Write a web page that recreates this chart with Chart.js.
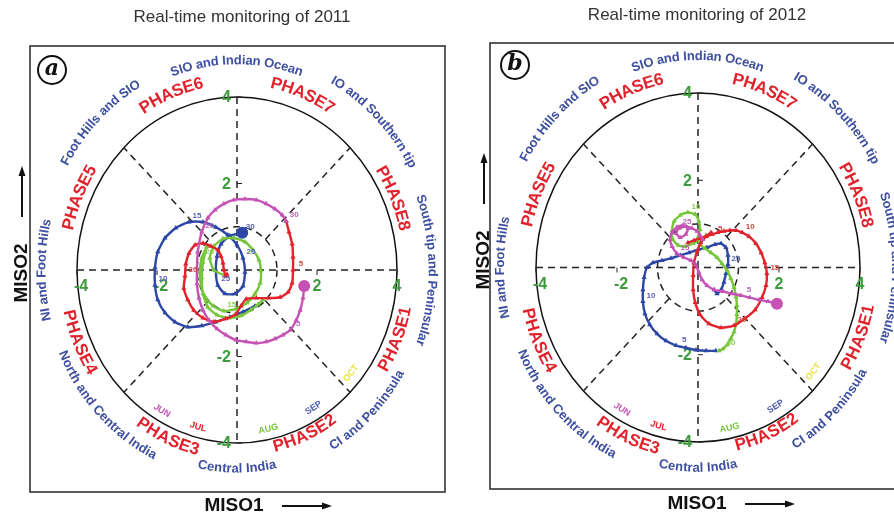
<!DOCTYPE html>
<html>
<head>
<meta charset="utf-8">
<script src="https://cdn.jsdelivr.net/npm/chart.js@4.4.1/dist/chart.umd.min.js"></script>
<style>
  body { margin: 0; background: #fff; }
  #wrap { position: relative; width: 894px; height: 519px; overflow: hidden; }
  canvas { position: absolute; top: 0; }
</style>
</head>
<body>
<div id="wrap">
  <canvas id="chartA" width="447" height="519" style="left:0"></canvas>
  <canvas id="chartB" width="447" height="519" style="left:447px"></canvas>
</div>
<script>
// ---- data: MISO1 (x), MISO2 (y) daily values ----
const jun2011 = [[1.68,-0.37],[1.65,-0.65],[1.58,-0.93],[1.48,-1.16],[1.33,-1.39],[1.15,-1.50],[0.95,-1.59],[0.73,-1.66],[0.48,-1.69],[0.23,-1.66],
  [-0.03,-1.62],[-0.28,-1.50],[-0.50,-1.36],[-0.70,-1.16],[-0.85,-0.93],[-0.95,-0.65],[-1.00,-0.32],[-1.00,0.05],[-0.98,0.42],[-0.88,0.88],
  [-0.73,1.20],[-0.55,1.39],[-0.33,1.53],[-0.08,1.62],[0.20,1.64],[0.48,1.62],[0.73,1.53],[0.95,1.41],[1.13,1.27],[1.23,1.13]];
const jul2011 = [[1.23,1.13],[1.30,0.88],[1.38,0.60],[1.40,0.30],[1.40,0.00],[1.38,-0.30],[1.28,-0.51],[1.08,-0.63],[0.78,-0.65],[0.48,-0.65],
  [0.23,-0.67],[0.10,-0.83],[-0.03,-1.02],[-0.28,-1.13],[-0.58,-1.20],[-0.85,-1.11],[-1.08,-0.93],[-1.23,-0.69],[-1.33,-0.42],[-1.30,-0.14],
  [-1.28,0.14],[-1.20,0.39],[-1.05,0.58],[-0.85,0.62],[-0.65,0.55],[-0.48,0.46],[-0.40,0.32],[-0.35,0.16],[-0.33,0.00],[-0.28,-0.14],[-0.25,-0.10]];
const aug2011 = [[-0.28,-0.14],[-0.58,0.00],[-0.68,0.28],[-0.58,0.55],[-0.35,0.72],[-0.08,0.74],[0.20,0.65],[0.40,0.46],[0.55,0.23],[0.60,-0.02],
  [0.58,-0.30],[0.45,-0.55],[0.25,-0.76],[-0.03,-0.90],[-0.33,-0.95],[-0.60,-0.83],[-0.80,-0.62],[-0.90,-0.35],[-0.93,-0.05],[-0.88,0.28],
  [-0.75,0.55],[-0.85,0.18],[-0.88,-0.18],[-0.85,-0.55],[-0.73,-0.86],[-0.50,-1.04],[-0.20,-1.11],[0.10,-1.06],[0.35,-0.92],[0.53,-0.79],[0.65,-0.69]];
const sep2011 = [[0.45,-0.83],[0.15,-0.97],[-0.18,-1.09],[-0.53,-1.20],[-0.88,-1.29],[-1.23,-1.32],[-1.55,-1.20],[-1.80,-0.99],[-1.98,-0.69],[-2.05,-0.35],
  [-2.05,0.05],[-1.98,0.42],[-1.80,0.74],[-1.53,0.97],[-1.20,1.11],[-0.85,1.11],[-0.53,0.99],[-0.23,0.81],[0.00,0.58],[0.15,0.28],
  [0.20,-0.05],[0.15,-0.37],[-0.05,-0.55],[-0.30,-0.55],[-0.48,-0.35],[-0.53,0.00],[-0.50,0.32],[-0.40,0.60],[-0.18,0.79],[0.13,0.86]];

const jun2012 = [[1.95,-0.83],[1.73,-0.78],[1.51,-0.74],[1.28,-0.69],[1.06,-0.64],[0.84,-0.60],[0.62,-0.55],[0.40,-0.51],[0.22,-0.41],[0.10,-0.28],
  [0.02,-0.11],[-0.05,0.05],[-0.17,0.16],[-0.35,0.23],[-0.52,0.32],[-0.64,0.48],[-0.69,0.64],[-0.64,0.80],[-0.52,0.92],[-0.37,0.97],
  [-0.25,0.90],[-0.30,0.76],[-0.44,0.69],[-0.54,0.78],[-0.47,0.90],[-0.30,0.94],[-0.15,0.90],[-0.02,0.83],[0.05,0.74],[0.12,0.64]];
const jul2012 = [[-0.25,0.57],[-0.10,0.62],[0.05,0.67],[0.20,0.71],[0.35,0.76],[0.49,0.80],[0.64,0.83],[0.79,0.85],[0.94,0.85],[1.09,0.80],
  [1.26,0.71],[1.43,0.55],[1.56,0.34],[1.65,0.11],[1.70,-0.14],[1.68,-0.41],[1.58,-0.69],[1.41,-0.97],[1.16,-1.17],[0.89,-1.33],
  [0.57,-1.38],[0.27,-1.29],[0.05,-1.08],[-0.07,-0.80],[-0.12,-0.51],[-0.12,-0.18],[-0.10,0.11],[-0.02,0.37],[0.07,0.57],[0.20,0.71],[0.32,0.80]];
const aug2012 = [[0.20,0.74],[0.05,0.64],[-0.12,0.55],[-0.32,0.48],[-0.49,0.51],[-0.62,0.64],[-0.64,0.85],[-0.59,1.06],[-0.44,1.20],[-0.25,1.26],
  [-0.07,1.22],[0.02,1.06],[0.05,0.87],[0.00,0.69],[0.05,0.53],[0.17,0.44],[0.32,0.34],[0.47,0.23],[0.59,0.09],[0.72,-0.07],
  [0.81,-0.25],[0.89,-0.46],[0.94,-0.67],[0.96,-0.87],[0.96,-1.08],[0.94,-1.29],[0.89,-1.47],[0.81,-1.63],[0.72,-1.77],[0.62,-1.86],[0.52,-1.91]];
const sep2012 = [[0.44,-1.91],[0.20,-1.91],[-0.05,-1.89],[-0.30,-1.84],[-0.54,-1.79],[-0.79,-1.68],[-1.01,-1.52],[-1.19,-1.31],[-1.31,-1.06],[-1.36,-0.78],
  [-1.36,-0.51],[-1.33,-0.23],[-1.26,0.00],[-1.11,0.11],[-0.89,0.16],[-0.67,0.21],[-0.44,0.28],[-0.22,0.34],[0.00,0.41],[0.22,0.46],
  [0.42,0.53],[0.57,0.55],[0.69,0.46],[0.74,0.28],[0.74,0.07],[0.69,-0.14],[0.64,-0.34],[0.57,-0.51],[0.47,-0.60],[0.40,-0.51]];

const months = ['JUN', 'JUL', 'AUG', 'SEP', 'OCT'];
const tickValues = [-4, -2, 2, 4];
const regions = ['South tip and Peninsular', 'IO and Southern tip', 'SIO and Indian Ocean', 'Foot Hills and SIO',
  'NI and Foot Hills', 'North and Central India', 'Central India', 'CI and Peninsula'];
const phases = ['PHASE1', 'PHASE2', 'PHASE3', 'PHASE4', 'PHASE5', 'PHASE6', 'PHASE7', 'PHASE8'];
// days that carry a small day-number label, per month (Jun, Jul, Aug, Sep)
const labelDays2011 = [[5, 20, 30], [5, 20], [15, 20], [10, 15, 20, 25, 30]];
const labelDays2012 = [[5, 15, 25], [5, 10, 15, 20], [10, 30], [5, 10, 25]];

const MAG = '#c652b6', RED = '#e2232b', GRN = '#76c63c', BLU = '#2d47a6';
const TXT_BLUE = '#3e4f9f', TXT_RED = '#e0222c', TXT_GREEN = '#3d9a3d';
const seriesColors = [MAG, RED, GRN, BLU];
const monthColors = [MAG, RED, GRN, '#4a5db0', '#e8e23a'];

// angle (deg) and radius (x4) for the text round the circle
const regionPos = [[0, 1.22, true], [45, 1.25, true], [90, 1.21, true], [135, 1.24, true],
  [180, 1.22, true], [224, 1.19, false], [270, 1.15, false], [315, 1.18, false]];
const phasePos = [[338, 1.08, false], [294, 1.05, false], [246, 1.07, false], [203, 1.08, false],
  [157, 1.08, true], [112, 1.1, true], [68, 1.1, true], [23, 1.07, true]];
const monthPos = [[240, 0.94], [255, 0.94], [282, 0.94], [301, 0.93], [320, 0.93]];

function arcText(ctx, cx, cy, rx, ry, text, deg, r, outward) {
  const t0 = deg * Math.PI / 180;
  const speed = t => r * Math.sqrt(rx * rx * Math.sin(t) ** 2 + ry * ry * Math.cos(t) ** 2);
  const dir = outward ? -1 : 1;
  const total = ctx.measureText(text).width;
  let t = t0 - dir * (total / 2) / speed(t0);
  for (const ch of text) {
    const w = ctx.measureText(ch).width;
    const tc = t + dir * (w / 2) / speed(t);
    const x = cx + r * rx * Math.cos(tc), y = cy - r * ry * Math.sin(tc);
    const ang = outward ? Math.atan2(ry * Math.cos(tc), rx * Math.sin(tc))
                        : Math.atan2(-ry * Math.cos(tc), -rx * Math.sin(tc));
    ctx.save();
    ctx.translate(x, y);
    ctx.rotate(ang);
    ctx.fillText(ch, 0, 0);
    ctx.restore();
    t += dir * w / speed(t);
  }
}

function arrow(ctx, x1, y1, x2, y2) {
  const a = Math.atan2(y2 - y1, x2 - x1);
  ctx.beginPath();
  ctx.moveTo(x1, y1);
  ctx.lineTo(x2 - 6 * Math.cos(a), y2 - 6 * Math.sin(a));
  ctx.stroke();
  ctx.beginPath();
  ctx.moveTo(x2, y2);
  ctx.lineTo(x2 - 10 * Math.cos(a) + 3.5 * Math.sin(a), y2 - 10 * Math.sin(a) - 3.5 * Math.cos(a));
  ctx.lineTo(x2 - 10 * Math.cos(a) - 3.5 * Math.sin(a), y2 - 10 * Math.sin(a) + 3.5 * Math.cos(a));
  ctx.closePath();
  ctx.fill();
}

// background: frame, circles, dashed lines, texts
const diagramPlugin = {
  id: 'diagram',
  beforeDatasetsDraw(chart, args, o) {
    const ctx = chart.ctx, sx = chart.scales.x, sy = chart.scales.y;
    const cx = sx.getPixelForValue(0), cy = sy.getPixelForValue(0);
    const rx = sx.getPixelForValue(4) - cx, ry = cy - sy.getPixelForValue(4);
    ctx.save();
    // frame
    ctx.strokeStyle = '#333';
    ctx.lineWidth = 1.6;
    ctx.strokeRect(o.frame[0], o.frame[1], o.frame[2], o.frame[3]);
    // title
    ctx.fillStyle = '#333';
    ctx.font = '17px "Liberation Sans", Arial, sans-serif';
    ctx.textAlign = 'center';
    ctx.textBaseline = 'middle';
    ctx.fillText(o.title, o.titlePos[0], o.titlePos[1]);
    // outer circle
    ctx.strokeStyle = '#111';
    ctx.lineWidth = 1.5;
    ctx.beginPath();
    ctx.ellipse(cx, cy, rx, ry, 0, 0, Math.PI * 2);
    ctx.stroke();
    // dashed lines
    ctx.setLineDash([7, 5]);
    ctx.strokeStyle = '#222';
    ctx.lineWidth = 1.5;
    ctx.beginPath();
    ctx.ellipse(cx, cy, rx / 4, ry / 4, 0, 0, Math.PI * 2);
    ctx.stroke();
    ctx.beginPath();
    ctx.moveTo(sx.getPixelForValue(-4), cy); ctx.lineTo(sx.getPixelForValue(4), cy);
    ctx.moveTo(cx, sy.getPixelForValue(4)); ctx.lineTo(cx, sy.getPixelForValue(-4));
    for (const d of [45, 135, 225, 315]) {
      const c = Math.cos(d * Math.PI / 180), s = Math.sin(d * Math.PI / 180);
      ctx.moveTo(sx.getPixelForValue(c), sy.getPixelForValue(s));
      ctx.lineTo(sx.getPixelForValue(4 * c), sy.getPixelForValue(4 * s));
    }
    ctx.stroke();
    ctx.setLineDash([]);
    // ticks and tick labels
    ctx.lineWidth = 1;
    ctx.font = 'bold 16px "Liberation Sans", Arial, sans-serif';
    ctx.fillStyle = TXT_GREEN;
    for (const v of tickValues) {
      const px = sx.getPixelForValue(v), py = sy.getPixelForValue(v);
      ctx.beginPath();
      ctx.moveTo(px, cy); ctx.lineTo(px, cy + 5);
      ctx.moveTo(cx, py); ctx.lineTo(cx + 5, py);
      ctx.stroke();
      ctx.textAlign = 'center';
      ctx.fillText(String(v), px + (v < 0 ? 4 : 0), cy + 17);
      ctx.textAlign = 'right';
      ctx.fillText(String(v), cx - 6, py + 1);
    }
    // region names
    ctx.fillStyle = TXT_BLUE;
    ctx.font = 'bold 13px "Liberation Sans", Arial, sans-serif';
    ctx.textAlign = 'center';
    regions.forEach((t, i) => arcText(ctx, cx, cy, rx, ry, t, regionPos[i][0], regionPos[i][1], regionPos[i][2]));
    // phases
    ctx.fillStyle = TXT_RED;
    ctx.font = 'bold 17px "Liberation Sans", Arial, sans-serif';
    phases.forEach((t, i) => arcText(ctx, cx, cy, rx, ry, t, phasePos[i][0], phasePos[i][1], phasePos[i][2]));
    // month legend
    ctx.font = 'bold 9px "Liberation Sans", Arial, sans-serif';
    months.forEach((t, i) => {
      ctx.fillStyle = monthColors[i];
      arcText(ctx, cx, cy, rx, ry, t, monthPos[i][0], monthPos[i][1], false);
    });
    // panel letter
    ctx.strokeStyle = '#111';
    ctx.lineWidth = 2;
    ctx.beginPath();
    ctx.arc(o.letterPos[0], o.letterPos[1], 14, 0, Math.PI * 2);
    ctx.stroke();
    ctx.fillStyle = '#111';
    ctx.font = 'italic bold 22px "DejaVu Serif", serif';
    ctx.textAlign = 'center';
    ctx.fillText(o.letter, o.letterPos[0], o.letterPos[1] - 1);
    // axis names
    ctx.font = 'bold 19px "Liberation Sans", Arial, sans-serif';
    ctx.fillText('MISO1', o.miso1[0], o.miso1[1]);
    ctx.lineWidth = 2;
    arrow(ctx, o.miso1[0] + 48, o.miso1[1], o.miso1[0] + 98, o.miso1[1]);
    ctx.save();
    ctx.translate(o.miso2[0], o.miso2[1]);
    ctx.rotate(-Math.PI / 2);
    ctx.fillText('MISO2', 0, 0);
    ctx.restore();
    arrow(ctx, o.miso2[0], o.miso2[1] - 56, o.miso2[0], o.miso2[1] - 107);
    ctx.restore();
  },
  afterDatasetsDraw(chart, args, o) {
    const ctx = chart.ctx, sx = chart.scales.x, sy = chart.scales.y;
    ctx.save();
    ctx.font = 'bold 8px "Liberation Sans", Arial, sans-serif';
    ctx.textAlign = 'center';
    ctx.textBaseline = 'middle';
    o.labelDays.forEach((days, s) => {
      const pts = chart.data.datasets[s].data;
      ctx.fillStyle = ['#b866b8', '#d8453f', '#8ccf55', '#5a62b8'][s];
      for (const d of days) {
        const p = pts[Math.min(d, pts.length) - 1];
        ctx.fillText(String(d), sx.getPixelForValue(p.x) + 8, sy.getPixelForValue(p.y) - 6);
      }
    });
    ctx.restore();
  }
};

function makeDatasets(series, bigDots) {
  return series.map((pts, i) => ({
    data: pts.map(p => ({ x: p[0], y: p[1] })),
    showLine: true,
    borderColor: seriesColors[i],
    backgroundColor: seriesColors[i],
    borderWidth: 2.4,
    pointStyle: pts.map((p, j) => (bigDots[i] === j + 1 ? 'circle' : 'triangle')),
    pointRadius: pts.map((p, j) => (bigDots[i] === j + 1 ? 6 : 3)),
    pointBorderWidth: 0,
    tension: 0.2,
    clip: false
  }));
}

function makeChart(id, series, bigDots, padding, opts) {
  return new Chart(document.getElementById(id), {
    type: 'scatter',
    data: { datasets: makeDatasets(series, bigDots) },
    options: {
      responsive: false,
      animation: false,
      layout: { padding: padding },
      scales: {
        x: { min: -4, max: 4, display: false },
        y: { min: -4, max: 4, display: false }
      },
      plugins: { legend: { display: false }, tooltip: { enabled: false }, diagram: opts }
    },
    plugins: [diagramPlugin]
  });
}

const chartA = makeChart('chartA', [jun2011, jul2011, aug2011, sep2011], [1, 0, 0, 30],
  { left: 77, right: 50, top: 97, bottom: 76 },
  { title: 'Real-time monitoring of 2011', titlePos: [242, 17], frame: [30, 46, 415, 446],
    letter: 'a', letterPos: [52, 70], miso1: [234, 506], miso2: [22, 273], labelDays: labelDays2011 });
const chartB = makeChart('chartB', [jun2012, jul2012, aug2012, sep2012], [1, 0, 0, 0],
  { left: 89, right: 34, top: 93, bottom: 77 },
  { title: 'Real-time monitoring of 2012', titlePos: [250, 15], frame: [43, 43, 420, 446],
    letter: 'b', letterPos: [68, 65], miso1: [250, 504], miso2: [37, 260], labelDays: labelDays2012 });
</script>
</body>
</html>
